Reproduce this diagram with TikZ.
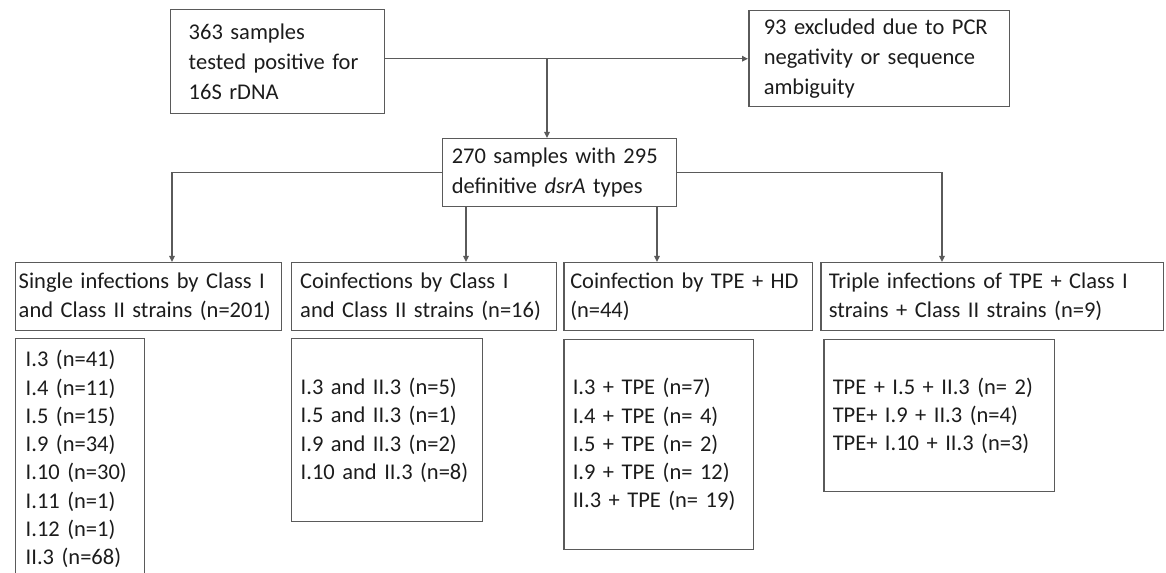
\documentclass[tikz,border=0pt]{standalone}
\usepackage{fontspec}
\setmainfont{Carlito}
\usepackage{xcolor}
\usepackage{tikz}
\usetikzlibrary{arrows.meta,calc}
\definecolor{edge}{HTML}{5A5A5A}
\definecolor{ink}{HTML}{1C1C1C}
\tikzset{
  box/.style={draw=edge,line width=0.85pt,anchor=north west,align=left,
    text=ink,inner ysep=0pt,font=\fontsize{12.8pt}{16.1pt}\selectfont},
  topbox/.style={box,font=\fontsize{12.8pt}{16.9pt}\selectfont},
  link/.style={draw=edge,line width=0.85pt,-{Triangle[length=0.12cm,width=0.11cm]}}
}

\begin{document}
\begin{tikzpicture}[x=0.02cm,y=-0.02cm]
\useasboundingbox (0,0) rectangle (1166,573);
\clip (0,0) rectangle (1166,573);

% screening and exclusion
\node[topbox,inner xsep=0.36cm,text width=3.56cm,minimum height=2.08cm] (pos) at (170,9)
  {363 samples\\tested positive for\\16S rDNA};
\node[topbox,inner xsep=0.3cm,text width=4.62cm,minimum height=1.92cm] (excl) at (748,10)
  {93 excluded due to PCR\\negativity or sequence\\ambiguity};
\node[topbox,inner xsep=0.18cm,text width=4.32cm,minimum height=1.36cm] (defin) at (442,138)
  {270 samples with 295\\definitive \textit{dsrA} types};

% infection groups
\node[box,inner xsep=0.06cm,text width=5.2cm,minimum height=1.36cm] (single) at (15,262)
  {Single infections by Class I\\and Class II strains (n=201)};
\node[box,inner xsep=0.17cm,text width=4.96cm,minimum height=1.36cm] (coinf) at (291,262)
  {Coinfections by Class I\\and Class II strains (n=16)};
\node[box,inner xsep=0.13cm,text width=4.72cm,minimum height=1.36cm] (tpehd) at (563,262)
  {Coinfection by TPE + HD\\(n=44)};
\node[box,inner xsep=0.16cm,text width=6.54cm,minimum height=1.36cm] (triple) at (820,262)
  {Triple infections of TPE + Class I\\strains + Class II strains (n=9)};

% type lists (first one runs off the page)
\node[box,inner xsep=0.2cm,text width=2.18cm,text height=0.56cm,text depth=6cm] (slist) at (15,338)
  {I.3 (n=41)\\I.4 (n=11)\\I.5 (n=15)\\I.9 (n=34)\\I.10 (n=30)\\I.11 (n=1)\\I.12 (n=1)\\II.3 (n=68)};
\node[box,inner xsep=0.18cm,text width=3.46cm,minimum height=3.66cm] (clist) at (291,338)
  {I.3 and II.3 (n=5)\\I.5 and II.3 (n=1)\\I.9 and II.3 (n=2)\\I.10 and II.3 (n=8)};
\node[box,inner xsep=0.18cm,text width=3.44cm,minimum height=4.2cm] (tlist) at (563,339)
  {I.3 + TPE (n=7)\\I.4 + TPE (n= 4)\\I.5 + TPE (n= 2)\\I.9 + TPE (n= 12)\\II.3 + TPE (n= 19)};
\node[box,inner xsep=0.18cm,text width=4.26cm,minimum height=3.04cm] (plist) at (823,339)
  {TPE + I.5 + II.3 (n= 2)\\TPE+ I.9 + II.3 (n=4)\\TPE+ I.10 + II.3 (n=3)};

% connectors
\coordinate (split) at ($(defin.north west)+(105,0)$);
\coordinate (f1) at ($(single.north west)+(157,0)$);
\coordinate (f2) at ($(coinf.north west)+(175,0)$);
\coordinate (f3) at ($(tpehd.north west)+(94,0)$);
\coordinate (f4) at ($(triple.north west)+(122,0)$);
\draw[link] (pos.east |- excl.west) -- (excl.west);
\draw[link] (split |- excl.west) -- (split);
\draw[link] (defin.west) -| (f1);
\draw[link] (defin.east) -| (f4);
\draw[link] (defin.south -| f2) -- (f2);
\draw[link] (defin.south -| f3) -- (f3);
\end{tikzpicture}
\end{document}
